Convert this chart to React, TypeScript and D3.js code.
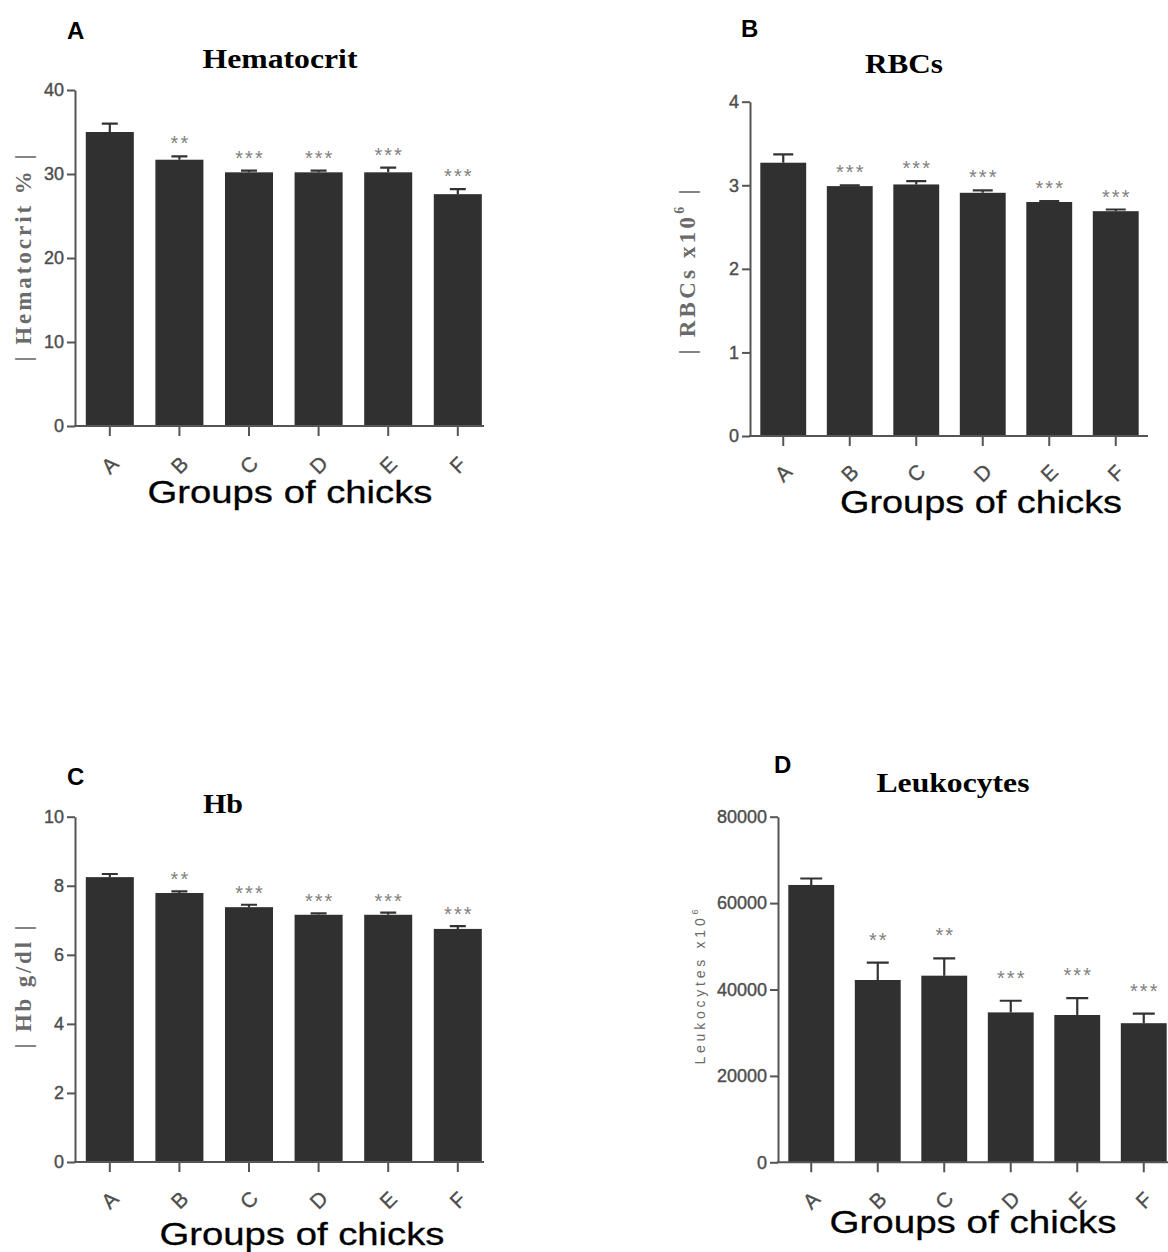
import React, { useEffect, useRef } from "react";
import * as d3 from "d3";

// groups on the x axis
const groups = ["A", "B", "C", "D", "E", "F"];

// Hematocrit %
const hematocritMeans = [35.0, 31.7, 30.2, 30.2, 30.2, 27.6];
const hematocritSem = [1.0, 0.4, 0.2, 0.2, 0.55, 0.6];
const hematocritStars = ["", "**", "***", "***", "***", "***"];
const hematocritTicks = [0, 10, 20, 30, 40];

// RBCs x10^6
const rbcMeans = [3.27, 2.99, 3.01, 2.91, 2.8, 2.69];
const rbcSem = [0.1, 0.01, 0.04, 0.03, 0.01, 0.02];
const rbcStars = ["", "***", "***", "***", "***", "***"];
const rbcTicks = [0, 1, 2, 3, 4];

// Hb g/dl
const hbMeans = [8.25, 7.79, 7.38, 7.16, 7.16, 6.75];
const hbSem = [0.09, 0.05, 0.07, 0.04, 0.06, 0.08];
const hbStars = ["", "**", "***", "***", "***", "***"];
const hbTicks = [0, 2, 4, 6, 8, 10];

// Leukocytes x10^6
const leukMeans = [64200, 42200, 43200, 34700, 34100, 32200];
const leukSem = [1500, 4000, 4000, 2700, 3900, 2200];
const leukStars = ["", "**", "**", "***", "***", "***"];
const leukTicks = [0, 20000, 40000, 60000, 80000];

const SANS = "'Liberation Sans', Arial, sans-serif";
const SERIF = "'Liberation Serif', 'Times New Roman', serif";

const panels = [
  {
    letter: "A", letterX: 67, letterY: 39,
    title: "Hematocrit", titleX: 280, titleY: 68, titleLen: 155,
    yLabel: "| Hematocrit % |", yLabelX: 23, yLabelY: 258, yLabelLen: 207, yLabelSerif: true,
    means: hematocritMeans, sem: hematocritSem, stars: hematocritStars, ticks: hematocritTicks, yMax: 40,
    x0: 75, xEnd: 492.6, axisEnd: 484, y0: 426, yTop: 90, cap: 16, starGap: 6,
    labelDy: 39, groupX: 290, groupY: 503, groupLen: 285,
  },
  {
    letter: "B", letterX: 741, letterY: 37,
    title: "RBCs", titleX: 904, titleY: 73, titleLen: 78,
    yLabel: "| RBCs x10", yLabelSup: "6", yLabelEnd: " |", yLabelX: 687, yLabelY: 272, yLabelLen: 165, yLabelSerif: true,
    means: rbcMeans, sem: rbcSem, stars: rbcStars, ticks: rbcTicks, yMax: 4,
    x0: 750, xEnd: 1149, axisEnd: 1148, y0: 436, yTop: 101.7, cap: 20, starGap: 6,
    labelDy: 37, groupX: 981, groupY: 513, groupLen: 282,
  },
  {
    letter: "C", letterX: 67, letterY: 785,
    title: "Hb", titleX: 223, titleY: 813, titleLen: 40,
    yLabel: "| Hb g/dl |", yLabelX: 23, yLabelY: 987, yLabelLen: 123, yLabelSerif: true,
    means: hbMeans, sem: hbSem, stars: hbStars, ticks: hbTicks, yMax: 10,
    x0: 75, xEnd: 492.6, axisEnd: 484, y0: 1162, yTop: 816.7, cap: 16, starGap: 5,
    labelDy: 38, groupX: 302, groupY: 1245, groupLen: 285,
  },
  {
    letter: "D", letterX: 774, letterY: 773,
    title: "Leukocytes", titleX: 953, titleY: 792, titleLen: 153,
    yLabel: "Leukocytes x10", yLabelSup: "6", yLabelEnd: "", yLabelX: 700, yLabelY: 987, yLabelLen: 155, yLabelSerif: false,
    means: leukMeans, sem: leukSem, stars: leukStars, ticks: leukTicks, yMax: 80000,
    x0: 778, xEnd: 1177, axisEnd: 1168, y0: 1162.3, yTop: 816.7, cap: 22, starGap: 16,
    labelDy: 38, groupX: 973, groupY: 1233, groupLen: 287,
  },
];

function drawPanel(svg: any, p: any) {
  const g = svg.append("g");

  const x = d3.scaleBand().domain(groups).range([p.x0, p.xEnd]).paddingInner(0.31).paddingOuter(0.155);
  const y = d3.scaleLinear().domain([0, p.yMax]).range([p.y0, p.yTop]);

  // bars
  g.selectAll(".bar").data(p.means).join("rect").attr("class", "bar")
    .attr("x", (d: number, i: number) => x(groups[i]))
    .attr("width", x.bandwidth())
    .attr("y", (d: number) => y(d))
    .attr("height", (d: number) => p.y0 - y(d))
    .attr("fill", "#303030");

  // error bars (upper half only)
  const cx = (i: number) => (x(groups[i]) as number) + x.bandwidth() / 2;
  g.selectAll(".err").data(p.means).join("path").attr("class", "err")
    .attr("d", (d: number, i: number) => {
      const top = y(d + p.sem[i]);
      return `M${cx(i)},${y(d)}V${top}M${cx(i) - p.cap / 2},${top}H${cx(i) + p.cap / 2}`;
    })
    .attr("stroke", "#333").attr("stroke-width", 2.2).attr("fill", "none");

  // significance stars
  g.selectAll(".star").data(p.stars).join("text").attr("class", "star")
    .attr("x", (d: string, i: number) => cx(i) + 1)
    .attr("y", (d: string, i: number) => y(p.means[i] + p.sem[i]) - p.starGap)
    .attr("text-anchor", "middle")
    .style("font-family", SANS).style("font-size", "20px").style("letter-spacing", "2px")
    .attr("fill", "#808080")
    .text((d: string) => d);

  // y axis
  const yAxis = g.append("g").attr("transform", `translate(${p.x0},0)`)
    .call(d3.axisLeft(y).tickValues(p.ticks).tickSize(8).tickPadding(3).tickSizeOuter(0).tickFormat(d3.format("d")));
  yAxis.selectAll("path, line").attr("stroke", "#555").attr("stroke-width", 2);
  yAxis.selectAll("text").style("font-family", SANS).style("font-size", "18px")
    .attr("fill", "#4d4d4d").attr("stroke", "#4d4d4d").attr("stroke-width", 0.4);

  // x axis
  const xAxis = g.append("g").attr("transform", `translate(0,${p.y0})`)
    .call(d3.axisBottom(x).tickSize(10).tickSizeOuter(0));
  xAxis.select(".domain").attr("d", `M${p.x0 - 1},0H${p.axisEnd}`);
  xAxis.selectAll("path, line").attr("stroke", "#555").attr("stroke-width", 2);
  xAxis.selectAll("text")
    .attr("y", 0).attr("dy", "0.35em")
    .attr("transform", `translate(0,${p.labelDy}) rotate(-45)`)
    .attr("text-anchor", "middle")
    .style("font-family", SANS).style("font-size", "21px")
    .attr("fill", "#4d4d4d").attr("stroke", "#4d4d4d").attr("stroke-width", 0.3);

  // panel letter
  svg.append("text").attr("x", p.letterX).attr("y", p.letterY)
    .style("font-family", SANS).style("font-weight", "bold").style("font-size", "24px")
    .attr("fill", "#000").text(p.letter);

  // title
  svg.append("text").attr("x", p.titleX).attr("y", p.titleY).attr("text-anchor", "middle")
    .attr("textLength", p.titleLen).attr("lengthAdjust", "spacingAndGlyphs")
    .style("font-family", SERIF).style("font-weight", "bold").style("font-size", "27px")
    .attr("fill", "#000").text(p.title);

  // y axis label
  const yl = svg.append("text")
    .attr("transform", `translate(${p.yLabelX},${p.yLabelY}) rotate(-90)`)
    .attr("text-anchor", "middle").attr("dominant-baseline", "central")
    .attr("textLength", p.yLabelLen).attr("lengthAdjust", "spacing")
    .style("font-family", p.yLabelSerif ? SERIF : SANS)
    .style("font-weight", p.yLabelSerif ? "bold" : "normal")
    .style("font-size", p.yLabelSerif ? "23px" : "14px")
    .attr("fill", "#6a6a6a");
  yl.append("tspan").text(p.yLabel);
  if (p.yLabelSup) {
    yl.append("tspan").attr("dy", p.yLabelSerif ? -8 : -5).style("font-size", p.yLabelSerif ? "14px" : "9px").text(p.yLabelSup);
    if (p.yLabelEnd) yl.append("tspan").attr("dy", 8).text(p.yLabelEnd);
  }

  // x axis title
  svg.append("text").attr("x", p.groupX).attr("y", p.groupY).attr("text-anchor", "middle")
    .attr("textLength", p.groupLen).attr("lengthAdjust", "spacingAndGlyphs")
    .style("font-family", SANS).style("font-size", "32px")
    .attr("fill", "#000").attr("stroke", "#000").attr("stroke-width", 0.3)
    .text("Groups of chicks");
}

export default function App() {
  const ref = useRef<SVGSVGElement>(null);

  useEffect(() => {
    const svg = d3.select(ref.current);
    svg.selectAll("*").remove();
    panels.forEach((p) => drawPanel(svg, p));
  }, []);

  return (
    <svg
      ref={ref}
      width={1168}
      height={1252}
      style={{ position: "absolute", left: 0, top: 0, background: "#fff" }}
    />
  );
}
